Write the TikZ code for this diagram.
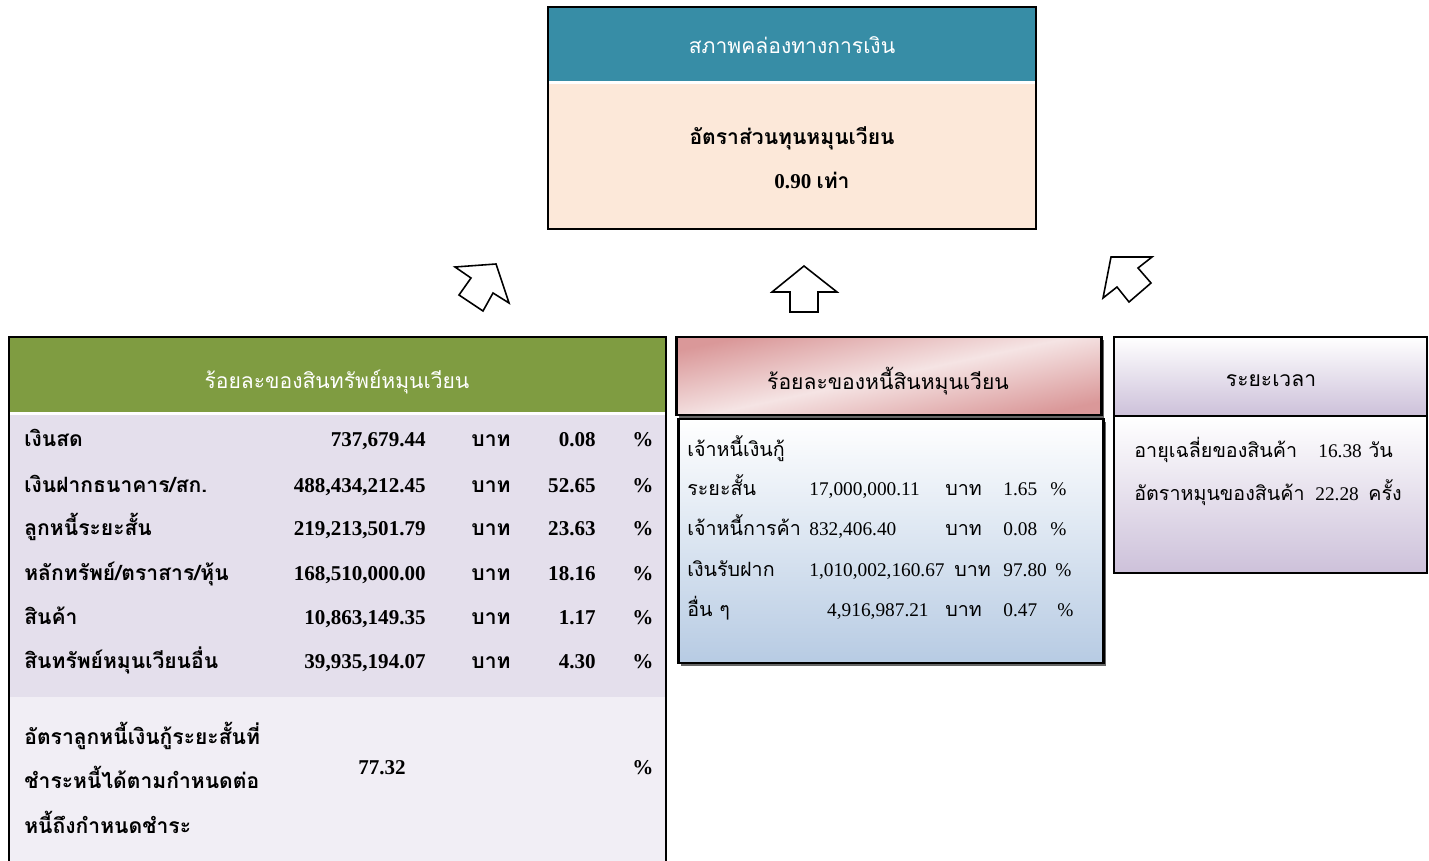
\documentclass[tikz,border=0pt]{standalone}
\usepackage{fontspec}
\setmainfont{Liberation Serif}
\newfontfamily\thaifont[Script=Thai]{Loma}
\definecolor{tealhead}{HTML}{378DA6}
\definecolor{peachbody}{HTML}{FCE8D9}
\definecolor{greenhead}{HTML}{7F9C41}
\definecolor{lavrow}{HTML}{E4DFEC}
\definecolor{lavlight}{HTML}{F1EEF5}
\definecolor{pinkdark}{HTML}{DA9899}
\definecolor{pinklight}{HTML}{F5E4E4}
\definecolor{bluebody}{HTML}{B7CBE3}
\definecolor{purplebody}{HTML}{CDC1DA}
\tikzset{
  boldth/.style={inner sep=0pt, font=\thaifont\bfseries\fontsize{12}{14}\selectfont},
  boldnum/.style={inner sep=0pt, font=\bfseries\fontsize{12}{14}\selectfont},
  plainth/.style={inner sep=0pt, font=\thaifont\fontsize{11.2}{13}\selectfont},
  plainnum/.style={inner sep=0pt, font=\fontsize{11}{13}\selectfont},
  headth/.style={inner sep=0pt, font=\thaifont\fontsize{12}{14}\selectfont},
  arrowshape/.style={draw=black, line width=0.9pt, fill=white, line join=miter},
  shadowbox/.style={fill=black!60},
}
\begin{document}
\begin{tikzpicture}[x=0.02cm, y=-0.02cm]
\useasboundingbox (0,0) rectangle (1429,861);
% top box
\fill[tealhead] (548,7) rectangle (1036,81);
\fill[white] (548,81) rectangle (1036,84);
\fill[peachbody] (548,84) rectangle (1036,229);
\draw[line width=1.4pt] (548,7) rectangle (1036,229);
\node[headth, text=white] (liq) at (792,45) {สภาพคล่องทางการเงิน};
\node[boldth, anchor=base] (ratio) at (792,145) {อัตราส่วนทุนหมุนเวียน};
\node[boldnum, anchor=base] (ratioval) at (812,189) {0.90 {\thaifont เท่า}};
% arrows
\draw[arrowshape] (455,267) -- (496,264) -- (509,303) -- (493,293) -- (483,311) -- (459,295) -- (471,278) -- cycle;
\draw[arrowshape] (772,292) -- (804,266) -- (837,292) -- (818,292) -- (818,312) -- (790,312) -- (790,292) -- cycle;
\draw[arrowshape] (1111,257) -- (1152,257) -- (1138,268) -- (1151,283) -- (1129,302) -- (1117,287) -- (1103,298) -- cycle;
% left box
\fill[greenhead] (9,337) rectangle (666,412);
\fill[white] (9,412) rectangle (666,415);
\fill[lavrow] (9,415) rectangle (666,697);
\fill[lavlight] (9,697) rectangle (666,861);
\draw[line width=1.1pt] (9,870) -- (9,337) -- (666,337) -- (666,870);
\node[headth, text=white] (assets) at (337,382) {ร้อยละของสินทรัพย์หมุนเวียน};
\node[boldth, anchor=base west] (a1) at (24,446) {เงินสด};
\node[boldnum, anchor=base east] (a1v) at (426,446) {737,679.44};
\node[boldth, anchor=base] (a1u) at (491,446) {บาท};
\node[boldnum, anchor=base east] (a1p) at (596,446) {0.08};
\node[boldnum, anchor=base] (a1s) at (643,446) {\%};
\node[boldth, anchor=base west] (a2) at (24,492) {เงินฝากธนาคาร/สก.};
\node[boldnum, anchor=base east] (a2v) at (426,492) {488,434,212.45};
\node[boldth, anchor=base] (a2u) at (491,492) {บาท};
\node[boldnum, anchor=base east] (a2p) at (596,492) {52.65};
\node[boldnum, anchor=base] (a2s) at (643,492) {\%};
\node[boldth, anchor=base west] (a3) at (24,535) {ลูกหนี้ระยะสั้น};
\node[boldnum, anchor=base east] (a3v) at (426,535) {219,213,501.79};
\node[boldth, anchor=base] (a3u) at (491,535) {บาท};
\node[boldnum, anchor=base east] (a3p) at (596,535) {23.63};
\node[boldnum, anchor=base] (a3s) at (643,535) {\%};
\node[boldth, anchor=base west] (a4) at (24,580) {หลักทรัพย์/ตราสาร/หุ้น};
\node[boldnum, anchor=base east] (a4v) at (426,580) {168,510,000.00};
\node[boldth, anchor=base] (a4u) at (491,580) {บาท};
\node[boldnum, anchor=base east] (a4p) at (596,580) {18.16};
\node[boldnum, anchor=base] (a4s) at (643,580) {\%};
\node[boldth, anchor=base west] (a5) at (24,624) {สินค้า};
\node[boldnum, anchor=base east] (a5v) at (426,624) {10,863,149.35};
\node[boldth, anchor=base] (a5u) at (491,624) {บาท};
\node[boldnum, anchor=base east] (a5p) at (596,624) {1.17};
\node[boldnum, anchor=base] (a5s) at (643,624) {\%};
\node[boldth, anchor=base west] (a6) at (24,668) {สินทรัพย์หมุนเวียนอื่น};
\node[boldnum, anchor=base east] (a6v) at (426,668) {39,935,194.07};
\node[boldth, anchor=base] (a6u) at (491,668) {บาท};
\node[boldnum, anchor=base east] (a6p) at (596,668) {4.30};
\node[boldnum, anchor=base] (a6s) at (643,668) {\%};
\node[boldth, anchor=base west] (b1) at (24,744) {อัตราลูกหนี้เงินกู้ระยะสั้นที่};
\node[boldth, anchor=base west] (b2) at (24,788) {ชำระหนี้ได้ตามกำหนดต่อ};
\node[boldth, anchor=base west] (b3) at (24,833) {หนี้ถึงกำหนดชำระ};
\node[boldnum, anchor=base] (bv) at (382,774) {77.32};
\node[boldnum, anchor=base] (bs) at (643,774) {\%};
% middle box
\fill[shadowbox] (679,340) rectangle (1104,418);
\shade[top color=pinkdark, bottom color=pinkdark, middle color=pinklight, shading angle=12] (676,337) rectangle (1101,415);
\draw[line width=1.7pt] (676,337) rectangle (1101,415);
\fill[shadowbox] (681,422) rectangle (1106,666);
\shade[top color=white, bottom color=bluebody] (678,419) rectangle (1103,663);
\draw[line width=1.7pt] (678,419) rectangle (1103,663);
\node[headth] (debts) at (888,381) {ร้อยละของหนี้สินหมุนเวียน};
\node[plainth, anchor=base west] (d0) at (687,456) {เจ้าหนี้เงินกู้};
\node[plainth, anchor=base west] (d1) at (687,495) {ระยะสั้น};
\node[plainnum, anchor=base west] (d1v) at (809,495) {17,000,000.11};
\node[plainth, anchor=base west] (d1u) at (945,495) {บาท};
\node[plainnum, anchor=base west] (d1p) at (1003,495) {1.65};
\node[plainnum, anchor=base west] (d1s) at (1050,495) {\%};
\node[plainth, anchor=base west] (d2) at (687,535) {เจ้าหนี้การค้า};
\node[plainnum, anchor=base west] (d2v) at (809,535) {832,406.40};
\node[plainth, anchor=base west] (d2u) at (945,535) {บาท};
\node[plainnum, anchor=base west] (d2p) at (1003,535) {0.08};
\node[plainnum, anchor=base west] (d2s) at (1050,535) {\%};
\node[plainth, anchor=base west] (d3) at (687,576) {เงินรับฝาก};
\node[plainnum, anchor=base west] (d3v) at (809,576) {1,010,002,160.67};
\node[plainth, anchor=base west] (d3u) at (954,576) {บาท};
\node[plainnum, anchor=base west] (d3p) at (1003,576) {97.80};
\node[plainnum, anchor=base west] (d3s) at (1055,576) {\%};
\node[plainth, anchor=base west] (d4) at (687,616) {อื่น ๆ};
\node[plainnum, anchor=base east] (d4v) at (929,616) {4,916,987.21};
\node[plainth, anchor=base west] (d4u) at (945,616) {บาท};
\node[plainnum, anchor=base west] (d4p) at (1003,616) {0.47};
\node[plainnum, anchor=base west] (d4s) at (1057,616) {\%};
% right box
\shade[top color=white, bottom color=purplebody] (1114,337) rectangle (1427,415);
\shade[top color=white, bottom color=purplebody] (1114,417) rectangle (1427,573);
\draw[line width=1.1pt] (1114,337) rectangle (1427,573);
\draw[line width=1.1pt] (1114,416) -- (1427,416);
\node[headth] (period) at (1271,381) {ระยะเวลา};
\node[plainth, anchor=base west] (p1) at (1134,457) {อายุเฉลี่ยของสินค้า};
\node[plainnum, anchor=base west] (p1v) at (1318,457) {16.38};
\node[plainth, anchor=base west] (p1u) at (1368,457) {วัน};
\node[plainth, anchor=base west] (p2) at (1134,500) {อัตราหมุนของสินค้า};
\node[plainnum, anchor=base west] (p2v) at (1315,500) {22.28};
\node[plainth, anchor=base west] (p2u) at (1368,500) {ครั้ง};
\end{tikzpicture}
\end{document}
